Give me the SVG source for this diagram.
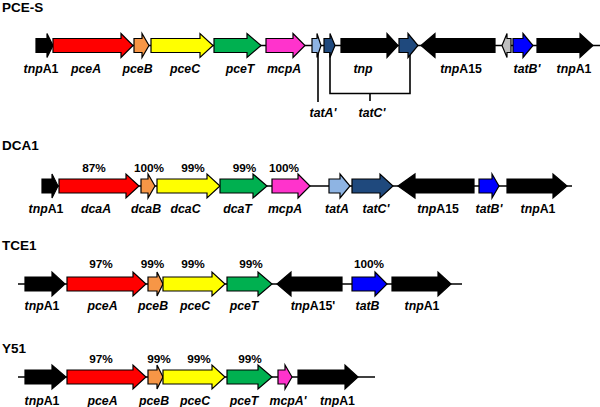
<svg xmlns="http://www.w3.org/2000/svg" width="600" height="407" viewBox="0 0 600 407">
<style>
.g{stroke:#000;stroke-width:1.2;stroke-linejoin:miter}
.bk{fill:#000}.rd{fill:#FF0000}.or{fill:#F79646}.ye{fill:#FFFF00}.gr{fill:#00B050}.mg{fill:#FF33CC}
.lb{fill:#8EB4E3}.db{fill:#1F497D}.bl{fill:#0000FF}.gy{fill:#BFBFBF}
.ln{stroke:#000;stroke-width:1.6;fill:none}
.t{font-family:"Liberation Sans",Arial,sans-serif;font-weight:bold;font-size:12.3px;text-anchor:middle;fill:#000}
.i{font-style:italic}
.p{font-family:"Liberation Sans",Arial,sans-serif;font-weight:bold;font-size:11.8px;text-anchor:middle;fill:#000}
.h{font-family:"Liberation Sans",Arial,sans-serif;font-weight:bold;font-size:13.5px;fill:#000}
</style>
<g id="connectors">
<line class="ln" x1="36" y1="45.5" x2="600" y2="45.5"/>
<line class="ln" x1="42" y1="186" x2="572" y2="186"/>
<line class="ln" x1="18" y1="284" x2="462" y2="284"/>
<line class="ln" x1="18" y1="377" x2="375" y2="377"/>
<polyline class="ln" points="318,53 318,102"/>
<polyline class="ln" points="330,53 330,93.5 410,93.5 410,53"/>
<line class="ln" x1="370" y1="93.5" x2="370" y2="101"/>
</g>
<g id="titles">
<text class="h" x="2" y="12">PCE-S</text>
<text class="h" x="2" y="150">DCA1</text>
<text class="h" x="2" y="250">TCE1</text>
<text class="h" x="2" y="353">Y51</text>
</g>
<!-- Row 1 PCE-S c=45.5 -->
<g id="r1-tnpA1a"><path class="g bk" d="M36,38.5H47V33.5L53,45.5L47,57.5V52.5H36Z"/><text class="t" x="41" y="72.5"><tspan class="i">tnp</tspan>A1</text></g>
<g id="r1-pceA"><path class="g rd" d="M53,38.5H121V33.5L133,45.5L121,57.5V52.5H53Z"/><text class="t i" x="86" y="72.5">pceA</text></g>
<g id="r1-pceB"><path class="g or" d="M134,38.5H142V33.5L149,45.5L142,57.5V52.5H134Z"/><text class="t i" x="137.5" y="72.5">pceB</text></g>
<g id="r1-pceC"><path class="g ye" d="M151,38.5H200V33.5L213,45.5L200,57.5V52.5H151Z"/><text class="t i" x="185" y="72.5">pceC</text></g>
<g id="r1-pceT"><path class="g gr" d="M214,38.5H247V33.5L261,45.5L247,57.5V52.5H214Z"/><text class="t i" x="240" y="72.5">pceT</text></g>
<g id="r1-mcpA"><path class="g mg" d="M266,38.5H293V33.5L305,45.5L293,57.5V52.5H266Z"/><text class="t i" x="284" y="72.5">mcpA</text></g>
<g id="r1-tatA"><path class="g lb" d="M312,38.5H317V33.5L321,45.5L317,57.5V52.5H312Z"/><text class="t i" x="323" y="116.5">tatA'</text></g>
<g id="r1-tatC1"><path class="g db" d="M324,38.5H330V33.5L335,45.5L330,57.5V52.5H324Z"/></g>
<g id="r1-tnp"><path class="g bk" d="M341,38.5H387V33.5L398,45.5L387,57.5V52.5H341Z"/><text class="t i" x="363" y="72.5">tnp</text></g>
<g id="r1-tatC2"><path class="g db" d="M399,38.5H408V33.5L418,45.5L408,57.5V52.5H399Z"/><text class="t i" x="372" y="116.5">tatC'</text></g>
<g id="r1-tnpA15"><path class="g bk" d="M495,38.5H435V33.5L421,45.5L435,57.5V52.5H495Z"/><text class="t" x="461" y="72.5"><tspan class="i">tnp</tspan>A15</text></g>
<g id="r1-gray"><path class="g gy" d="M511,38.5H507V33.5L502,45.5L507,57.5V52.5H511Z"/></g>
<g id="r1-tatB"><path class="g bl" d="M513,38.5H523V33.5L533,45.5L523,57.5V52.5H513Z"/><text class="t i" x="527" y="72.5">tatB'</text></g>
<g id="r1-tnpA1b"><path class="g bk" d="M537,38.5H580V33.5L593,45.5L580,57.5V52.5H537Z"/><text class="t" x="574" y="72.5"><tspan class="i">tnp</tspan>A1</text></g>
<!-- Row 2 DCA1 c=186 -->
<g id="r2-pct">
<text class="p" x="94" y="171.5">87%</text><text class="p" x="149" y="171.5">100%</text><text class="p" x="193" y="171.5">99%</text><text class="p" x="244.5" y="171.5">99%</text><text class="p" x="284" y="171.5">100%</text>
</g>
<g id="r2-tnpA1a"><path class="g bk" d="M42,179H52V174L58,186L52,198V193H42Z"/><text class="t" x="46" y="212.5"><tspan class="i">tnp</tspan>A1</text></g>
<g id="r2-dcaA"><path class="g rd" d="M59,179H126V174L139,186L126,198V193H59Z"/><text class="t i" x="96" y="212.5">dcaA</text></g>
<g id="r2-dcaB"><path class="g or" d="M141,179H148V174L155,186L148,198V193H141Z"/><text class="t i" x="146" y="212.5">dcaB</text></g>
<g id="r2-dcaC"><path class="g ye" d="M157,179H207V174L220,186L207,198V193H157Z"/><text class="t i" x="185.5" y="212.5">dcaC</text></g>
<g id="r2-dcaT"><path class="g gr" d="M220,179H253V174L267,186L253,198V193H220Z"/><text class="t i" x="237.5" y="212.5">dcaT</text></g>
<g id="r2-mcpA"><path class="g mg" d="M272,179H298V174L310,186L298,198V193H272Z"/><text class="t i" x="285" y="212.5">mcpA</text></g>
<g id="r2-tatA"><path class="g lb" d="M329,179H340V174L350,186L340,198V193H329Z"/><text class="t i" x="337" y="212.5">tatA</text></g>
<g id="r2-tatC"><path class="g db" d="M352,179H380V174L393,186L380,198V193H352Z"/><text class="t i" x="376" y="212.5">tatC'</text></g>
<g id="r2-tnpA15"><path class="g bk" d="M474,179H415V174L398,186L415,198V193H474Z"/><text class="t" x="438" y="212.5"><tspan class="i">tnp</tspan>A15</text></g>
<g id="r2-tatB"><path class="g bl" d="M479,179H492V174L499,186L492,198V193H479Z"/><text class="t i" x="489" y="212.5">tatB'</text></g>
<g id="r2-tnpA1b"><path class="g bk" d="M507,179H553V174L567,186L553,198V193H507Z"/><text class="t" x="538" y="212.5"><tspan class="i">tnp</tspan>A1</text></g>
<!-- Row 3 TCE1 c=284 -->
<g id="r3-pct">
<text class="p" x="101" y="268">97%</text><text class="p" x="152.5" y="268">99%</text><text class="p" x="193" y="268">99%</text><text class="p" x="251" y="268">99%</text><text class="p" x="369" y="268">100%</text>
</g>
<g id="r3-tnpA1a"><path class="g bk" d="M25,277H52V272L65,284L52,296V291H25Z"/><text class="t" x="42" y="309.5"><tspan class="i">tnp</tspan>A1</text></g>
<g id="r3-pceA"><path class="g rd" d="M67,277H133V272L146,284L133,296V291H67Z"/><text class="t i" x="102.5" y="309.5">pceA</text></g>
<g id="r3-pceB"><path class="g or" d="M148,277H157V272L163,284L157,296V291H148Z"/><text class="t i" x="153" y="309.5">pceB</text></g>
<g id="r3-pceC"><path class="g ye" d="M163,277H212V272L225,284L212,296V291H163Z"/><text class="t i" x="195" y="309.5">pceC</text></g>
<g id="r3-pceT"><path class="g gr" d="M227,277H258V272L272,284L258,296V291H227Z"/><text class="t i" x="244" y="309.5">pceT</text></g>
<g id="r3-tnpA15"><path class="g bk" d="M342,277H291V272L277,284L291,296V291H342Z"/><text class="t" x="313" y="309.5"><tspan class="i">tnp</tspan>A15'</text></g>
<g id="r3-tatB"><path class="g bl" d="M352,277H375V272L387,284L375,296V291H352Z"/><text class="t i" x="367.5" y="309.5">tatB</text></g>
<g id="r3-tnpA1b"><path class="g bk" d="M392,277H438V272L451,284L438,296V291H392Z"/><text class="t" x="422" y="309.5"><tspan class="i">tnp</tspan>A1</text></g>
<!-- Row 4 Y51 c=377 -->
<g id="r4-pct">
<text class="p" x="101" y="363">97%</text><text class="p" x="159" y="363">99%</text><text class="p" x="199" y="363">99%</text><text class="p" x="250" y="363">99%</text>
</g>
<g id="r4-tnpA1a"><path class="g bk" d="M25,370H52V365L66,377L52,389V384H25Z"/><text class="t" x="42" y="404.5"><tspan class="i">tnp</tspan>A1</text></g>
<g id="r4-pceA"><path class="g rd" d="M67,370H133V365L146,377L133,389V384H67Z"/><text class="t i" x="102.5" y="404.5">pceA</text></g>
<g id="r4-pceB"><path class="g or" d="M148,370H157V365L163,377L157,389V384H148Z"/><text class="t i" x="154" y="404.5">pceB</text></g>
<g id="r4-pceC"><path class="g ye" d="M163,370H212V365L225,377L212,389V384H163Z"/><text class="t i" x="195" y="404.5">pceC</text></g>
<g id="r4-pceT"><path class="g gr" d="M227,370H258V365L272,377L258,389V384H227Z"/><text class="t i" x="244" y="404.5">pceT</text></g>
<g id="r4-mcpA"><path class="g mg" d="M278,370H285V365L292,377L285,389V384H278Z"/><text class="t i" x="288" y="404.5">mcpA'</text></g>
<g id="r4-tnpA1b"><path class="g bk" d="M298,370H345V365L358,377L345,389V384H298Z"/><text class="t" x="337.5" y="404.5"><tspan class="i">tnp</tspan>A1</text></g>
</svg>
